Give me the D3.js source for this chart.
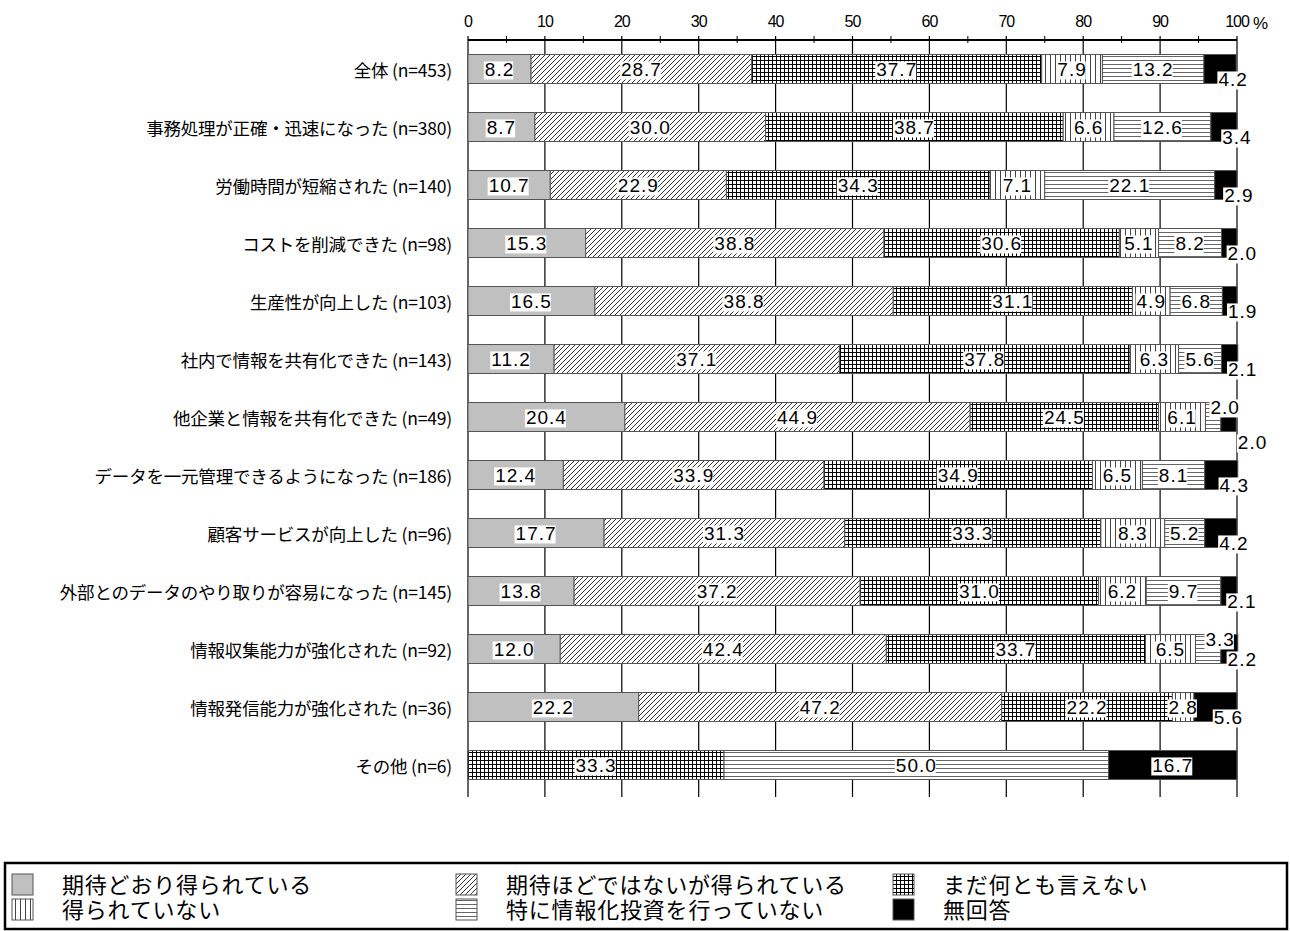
<!DOCTYPE html>
<html><head><meta charset="utf-8">
<script src="https://cdn.jsdelivr.net/npm/d3@7"></script>
<style>
body{margin:0;background:#fff;}
svg{display:block;}
</style></head>
<body>
<script>
const categories = [
  "全体 (n=453)",
  "事務処理が正確・迅速になった (n=380)",
  "労働時間が短縮された (n=140)",
  "コストを削減できた (n=98)",
  "生産性が向上した (n=103)",
  "社内で情報を共有化できた (n=143)",
  "他企業と情報を共有化できた (n=49)",
  "データを一元管理できるようになった (n=186)",
  "顧客サービスが向上した (n=96)",
  "外部とのデータのやり取りが容易になった (n=145)",
  "情報収集能力が強化された (n=92)",
  "情報発信能力が強化された (n=36)",
  "その他 (n=6)"
];
const seriesNames = ["期待どおり得られている","期待ほどではないが得られている","まだ何とも言えない","得られていない","特に情報化投資を行っていない","無回答"];
const vExpected  = [8.2, 8.7, 10.7, 15.3, 16.5, 11.2, 20.4, 12.4, 17.7, 13.8, 12.0, 22.2, 0];
const vPartly    = [28.7, 30.0, 22.9, 38.8, 38.8, 37.1, 44.9, 33.9, 31.3, 37.2, 42.4, 47.2, 0];
const vUndecided = [37.7, 38.7, 34.3, 30.6, 31.1, 37.8, 24.5, 34.9, 33.3, 31.0, 33.7, 22.2, 33.3];
const vNot       = [7.9, 6.6, 7.1, 5.1, 4.9, 6.3, 6.1, 6.5, 8.3, 6.2, 6.5, 2.8, 0];
const vNoInvest  = [13.2, 12.6, 22.1, 8.2, 6.8, 5.6, 2.0, 8.1, 5.2, 9.7, 3.3, 0, 50.0];
const vNoAnswer  = [4.2, 3.4, 2.9, 2.0, 1.9, 2.1, 2.0, 4.3, 4.2, 2.1, 2.2, 5.6, 16.7];
const tickValues = [0,10,20,30,40,50,60,70,80,90,100];
const minorTicks = [5,15,25,35,45,55,65,75,85,95];

const seriesValues = [vExpected, vPartly, vUndecided, vNot, vNoInvest, vNoAnswer];
const fills = ["#c0c0c0","url(#pHatch)","url(#pGrid)","url(#pVert)","url(#pHoriz)","#000"];

const W = 1290, H = 931;
const svg = d3.select("body").append("svg").attr("width", W).attr("height", H);
const defs = svg.append("defs");

function pattern(id, w, h, draw) {
  const p = defs.append("pattern").attr("id", id).attr("patternUnits", "userSpaceOnUse")
    .attr("width", w).attr("height", h);
  p.append("rect").attr("width", w).attr("height", h).attr("fill", "#fff");
  draw(p);
}
pattern("pHatch", 5, 5, p => p.append("path").attr("d", "M-1,6 L6,-1 M-1,1 L1,-1 M4,6 L6,4")
  .attr("stroke", "#000").attr("stroke-width", 0.8));
pattern("pGrid", 4, 4, p => p.append("path").attr("d", "M0.5,0 V4 M0,0.5 H4")
  .attr("stroke", "#000").attr("stroke-width", 1));
pattern("pVert", 5, 5, p => p.append("path").attr("d", "M0.5,0 V5")
  .attr("stroke", "#444").attr("stroke-width", 1));
pattern("pHoriz", 5, 4, p => p.append("path").attr("d", "M0,0.5 H5")
  .attr("stroke", "#666").attr("stroke-width", 1));

const x = d3.scaleLinear().domain([0, 100]).range([468, 1237]);
const y = d3.scaleBand().domain(categories).range([40, 794]).paddingInner(0.5).paddingOuter(0.25);

// gridlines
svg.append("g").selectAll("line").data(tickValues).join("line")
  .attr("x1", d => x(d)).attr("x2", d => x(d))
  .attr("y1", 36).attr("y2", 797)
  .attr("stroke", "#000").attr("stroke-width", 1.2);

// top axis
const axis = svg.append("g");
axis.append("line").attr("x1", x(0)).attr("x2", x(100)).attr("y1", 40).attr("y2", 40)
  .attr("stroke", "#000").attr("stroke-width", 2);
axis.selectAll(".minor").data(minorTicks).join("line").attr("class", "minor")
  .attr("x1", d => x(d)).attr("x2", d => x(d)).attr("y1", 36).attr("y2", 43)
  .attr("stroke", "#000").attr("stroke-width", 1);
axis.selectAll("text").data(tickValues).join("text")
  .attr("x", d => x(d)).attr("y", 27)
  .attr("text-anchor", "middle")
  .style("font-family", "'Liberation Sans', Arial, sans-serif")
  .style("font-size", "16px").style("letter-spacing", "-1px")
  .text(d => d);
axis.append("text").attr("x", 1253).attr("y", 29)
  .style("font-family", "'Liberation Sans', Arial, sans-serif")
  .style("font-size", "17px").text("%");

// category labels
svg.append("g").selectAll("text").data(categories).join("text")
  .attr("x", 452).attr("y", d => y(d) + y.bandwidth() / 2)
  .attr("text-anchor", "end").attr("dominant-baseline", "central")
  .style("font-family", "'Noto Sans CJK JP', sans-serif")
  .style("font-size", "17.5px").style("letter-spacing", "-0.2px")
  .text(d => d);

// build stacked segments
const segs = [];
categories.forEach((c, i) => {
  let acc = 0;
  seriesValues.forEach((arr, s) => {
    const v = arr[i];
    if (v > 0) segs.push({ c, i, s, v, x0: acc, x1: acc + v });
    acc += v;
  });
});

const barG = svg.append("g");
barG.selectAll("rect").data(segs).join("rect")
  .attr("x", d => x(d.x0)).attr("width", d => x(d.x1) - x(d.x0))
  .attr("y", d => y(d.c)).attr("height", y.bandwidth())
  .attr("fill", d => fills[d.s])
  .attr("stroke", "#555").attr("stroke-width", 1);

// labels
function offset(d) {
  if (d.s === 5 && d.v < 10) {
    if (d.i === 6) return [24, 25];
    return [13, 10];
  }
  if (d.s === 4 && d.v < 4) return [12, -10];
  return [0, 0];
}
const labG = svg.append("g");
const labs = labG.selectAll("g").data(segs).join("g")
  .attr("transform", d => {
    const o = offset(d);
    return `translate(${(x(d.x0) + x(d.x1)) / 2 + o[0]},${y(d.c) + y.bandwidth() / 2 + o[1]})`;
  });
labs.append("text")
  .attr("text-anchor", "middle").attr("dominant-baseline", "central")
  .attr("dy", "0.05em")
  .style("font-family", "'Liberation Sans', Arial, sans-serif")
  .style("font-size", "19px").style("letter-spacing", "1px")
  .text(d => d.v.toFixed(1));
labs.each(function() {
  const g = d3.select(this);
  const t = g.select("text");
  const b = t.node().getBBox();
  g.insert("rect", "text").attr("x", b.x - 1).attr("y", b.y + 2).attr("width", b.width)
    .attr("height", b.height - 3).attr("fill", "#fff");
});

// legend
const leg = svg.append("g");
leg.append("rect").attr("x", 5).attr("y", 863).attr("width", 1282).attr("height", 66)
  .attr("fill", "#fff").attr("stroke", "#000").attr("stroke-width", 2.5);
const legCols = [12, 456, 893];
seriesNames.forEach((name, s) => {
  const col = s % 3, row = Math.floor(s / 3);
  const sx = legCols[col], sy = 874 + row * 25;
  leg.append("rect").attr("x", sx).attr("y", sy).attr("width", 21).attr("height", 21)
    .attr("fill", fills[s]).attr("stroke", "#555").attr("stroke-width", 1);
  leg.append("text").attr("x", sx + 50).attr("y", sy + 11)
    .attr("dominant-baseline", "central")
    .style("font-family", "'Liberation Sans', 'Noto Sans CJK JP', sans-serif")
    .style("font-size", "22px").style("letter-spacing", "0.8px")
    .text(name);
});
</script>
</body></html>
